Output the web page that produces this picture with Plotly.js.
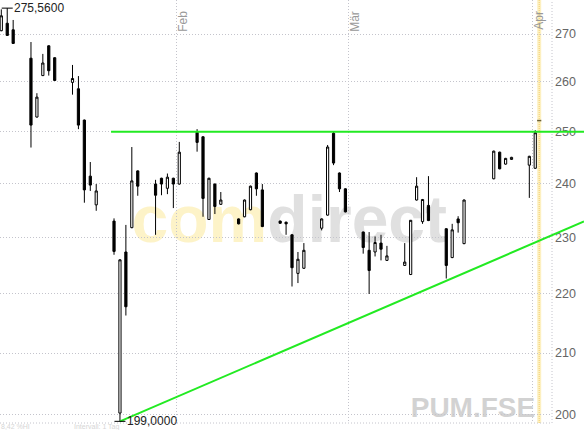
<!DOCTYPE html>
<html>
<head>
<meta charset="utf-8">
<script src="https://cdn.plot.ly/plotly-3.0.1.min.js"></script>
<style>
  html, body { margin: 0; padding: 0; background: #fff; }
  #chart { width: 584px; height: 430px; }
</style>
</head>
<body>
<div id="chart"></div>
<script>
// PUM.FSE, daily candles, January to April 2008
const dates = [
  '2008-01-02','2008-01-03','2008-01-04','2008-01-07','2008-01-08','2008-01-09','2008-01-10','2008-01-11',
  '2008-01-14','2008-01-15','2008-01-16','2008-01-17','2008-01-18',
  '2008-01-21','2008-01-22','2008-01-23','2008-01-24','2008-01-25',
  '2008-01-28','2008-01-29','2008-01-30','2008-01-31','2008-02-01',
  '2008-02-04','2008-02-05','2008-02-06','2008-02-07','2008-02-08',
  '2008-02-11','2008-02-12','2008-02-13','2008-02-14','2008-02-15',
  '2008-02-18','2008-02-19','2008-02-20','2008-02-21','2008-02-22',
  '2008-02-25','2008-02-26','2008-02-27','2008-02-28','2008-02-29',
  '2008-03-03','2008-03-04','2008-03-05','2008-03-06','2008-03-07',
  '2008-03-10','2008-03-11','2008-03-12','2008-03-13','2008-03-14',
  '2008-03-17','2008-03-18','2008-03-19','2008-03-20',
  '2008-03-25','2008-03-26','2008-03-27','2008-03-28',
  '2008-03-31','2008-04-01'
];
const open = [
  270.7, 272.3, 270.9, 264.9, 252.9, 261.3, 267.5, 265.0,
  259.9, 258.6, 252.3, 241.4, 236.0,
  233.0, 200.3, 227.4, 231.8, 242.4,
  239.9, 241.0, 239.1, 241.0, 239.9,
  249.9, 249.0, 233.3, 239.9, 236.1,
  233.4, 233.8, 235.1, 242.0, 238.8,
  233.0, 232.8, 230.5, 223.6, 224.5,
  231.7, 234.1, 249.7, 242.0, 239.0,
  231.0, 227.7, 227.4, 229.0, 225.9,
  225.0, 223.4, 236.9, 232.9, 235.9,
  231.6, 226.4, 233.4, 228.9,
  240.9, 246.0, 243.7, 244.6,
  243.5, 242.9
];
const high = [
  275.3, 275.56, 273.0, 268.3, 257.7, 265.8, 267.6, 265.1,
  263.5, 261.2, 252.4, 244.1, 239.9,
  233.5, 226.1, 232.3, 247.0, 242.5,
  240.7, 241.1, 241.9, 241.1, 248.0,
  250.5, 249.1, 241.1, 240.0, 238.4,
  233.5, 237.0, 239.6, 242.1, 239.9,
  233.1, 232.9, 230.6, 227.4, 229.0,
  233.5, 247.4, 250.0, 242.1, 239.1,
  231.1, 231.0, 230.2, 230.5, 228.5,
  229.0, 233.2, 241.2, 237.1, 241.4,
  231.7, 232.5, 233.9, 237.0,
  246.3, 246.1, 244.9, 245.1,
  245.3, 250.3
];
const low = [
  270.6, 269.6, 267.9, 246.9, 252.8, 261.2, 261.3, 260.2,
  257.4, 250.5, 236.4, 238.6, 234.9,
  226.9, 199.0, 216.3, 231.7, 237.7,
  230.5, 237.8, 238.0, 235.4, 239.8,
  246.1, 233.8, 233.2, 234.3, 236.0,
  232.4, 233.7, 235.0, 237.7, 231.9,
  232.5, 230.5, 221.3, 221.9, 224.4,
  231.3, 234.0, 243.5, 238.4, 234.6,
  227.1, 220.0, 226.6, 225.9, 225.8,
  224.9, 223.3, 236.8, 232.5, 233.0,
  222.7, 226.3, 230.9, 228.8,
  240.8, 242.7, 243.6, 244.5,
  237.3, 242.8
];
const close = [
  273.9, 269.7, 268.0, 251.3, 256.9, 263.9, 262.3, 260.3,
  260.7, 251.3, 238.8, 239.7, 238.6,
  227.5, 226.0, 217.8, 240.5, 239.5,
  237.8, 239.9, 241.2, 239.9, 246.0,
  247.9, 237.2, 241.0, 235.7, 236.9,
  232.5, 236.9, 239.5, 239.0, 232.0,
  232.6, 232.5, 224.6, 226.1, 227.7,
  233.4, 247.0, 243.9, 239.0, 234.7,
  228.2, 224.1, 229.1, 227.9, 226.7,
  225.6, 233.15, 239.5, 237.0, 233.1,
  225.0, 231.4, 232.7, 236.9,
  246.2, 242.8, 244.8, 245.0,
  245.2, 249.8
];

const monthStarts = ['2008-02-01', '2008-03-01', '2008-04-01'];
const monthLabels = ['Feb', 'Mär', 'Apr'];
const priceTicks = [200, 210, 220, 230, 240, 250, 260, 270];

// drawn lines: resistance and rising support
const resistanceLevel = 250.0;
const resistanceStart = '2008-01-21';
const trendDates = ['2008-01-22 12:00', '2008-03-17 12:00'];
const trendPrices = [199.0, 222.3];

// latest quote
const quoteTime = '2008-04-02 04:00';
const quotePrice = 252.2;

const xRange = ['2008-01-02 06:44', '2008-04-04 07:45'];
const yMin = 198.74, yMax = 277.33;

const FONT = 'Liberation Sans, Arial, Helvetica, sans-serif';
const W = 584, H = 430;
const margin = { l: 0, r: 32, t: 0, b: 7, pad: 0 };
const plotW = W - margin.l - margin.r;

function toMs(s) {
  const p = s.split(/[- :]/).map(Number);
  return Date.UTC(p[0], p[1] - 1, p[2], p[3] || 0, p[4] || 0);
}
const r0 = toMs(xRange[0]), r1 = toMs(xRange[1]);
const frac = s => (toMs(s) - r0) / (r1 - r0);
const pageRight = 1 + margin.r / plotW;   // x-domain fraction of the page edge

// support line extended in log space to the page edge
const t0 = toMs(trendDates[0]), t1 = toMs(trendDates[1]);
const k = (Math.log10(trendPrices[1]) - Math.log10(trendPrices[0])) / (t1 - t0);
const tEnd = r0 + pageRight * (r1 - r0);
const trendEndPrice = Math.pow(10, Math.log10(trendPrices[0]) + k * (tEnd - t0));

// period extremes
let hi = 0, lo = 0;
high.forEach((v, i) => { if (v > high[hi]) hi = i; });
low.forEach((v, i) => { if (v < low[lo]) lo = i; });
const fmt = v => v.toFixed(4).replace('.', ',');
const mid = d => d + ' 12:00';

const GRID = '#c4c4cc';
const GREEN = '#22ea22';

const candles = {
  type: 'candlestick',
  x: dates, open: open, high: high, low: low, close: close,
  xperiod: 86400000, xperiodalignment: 'middle',
  increasing: { line: { color: '#000', width: 1 }, fillcolor: '#fff' },
  decreasing: { line: { color: '#000', width: 1 }, fillcolor: '#000' },
  whiskerwidth: 0,
  hoverinfo: 'skip'
};

const quote = {
  type: 'scatter', mode: 'markers',
  x: [quoteTime], y: [quotePrice],
  marker: { symbol: 'line-ew', size: 3, line: { width: 1.5, color: '#6b6035' } },
  hoverinfo: 'skip'
};

const shapes = [
  // watermarks behind the candles
  {
    type: 'rect', xref: 'paper', yref: 'paper', layer: 'below',
    x0: 0.2476, x1: 0.8007, y0: 0.4007, y1: 0.5907,
    line: { width: 0 }, fillcolor: 'rgba(0,0,0,0)',
    label: {
      text: '<span style="fill:#fdf3c8">com</span><span style="fill:#e0e0e0">direct</span>',
      textposition: 'middle center', padding: 0,
      font: { family: FONT, size: 66, color: '#e0e0e0', weight: 'bold' }
    }
  },
  {
    type: 'rect', xref: 'paper', yref: 'paper', layer: 'below',
    x0: 0.74, x1: 0.975, y0: 0.0128, y1: 0.0728,
    line: { width: 0 }, fillcolor: 'rgba(0,0,0,0)',
    label: {
      text: 'PUM.FSE', textposition: 'middle right', padding: 0,
      font: { family: FONT, size: 28, color: '#d2d2d2', weight: 'bold' }
    }
  },
  // today marker
  {
    type: 'rect', xref: 'x', yref: 'paper', layer: 'below',
    xsizemode: 'pixel', xanchor: quoteTime, x0: -2, x1: 2, y0: 0, y1: 1,
    fillcolor: '#fdf0c0', line: { width: 0 }
  },
  {
    type: 'line', xref: 'x', yref: 'paper', layer: 'below',
    xsizemode: 'pixel', xanchor: quoteTime, x0: 0, x1: 0, y0: 0, y1: 1,
    line: { color: '#f3cf70', width: 1, dash: '1px,1px' }
  },
  // plot frame (right and bottom)
  {
    type: 'line', xref: 'paper', yref: 'paper', x0: 1, x1: 1, y0: 0, y1: 1,
    line: { color: GRID, width: 1, dash: '1px,2px' }
  },
  {
    type: 'line', xref: 'paper', yref: 'paper', x0: 0, x1: 1, y0: 0, y1: 0,
    line: { color: GRID, width: 1, dash: '1px,2px' }
  },
  // resistance
  {
    type: 'line', xref: 'x domain', yref: 'y',
    x0: frac(resistanceStart), x1: pageRight, y0: resistanceLevel, y1: resistanceLevel,
    line: { color: GREEN, width: 2 }
  },
  // support
  {
    type: 'line', xref: 'x domain', yref: 'y',
    x0: frac(trendDates[0]), x1: pageRight, y0: trendPrices[0], y1: trendEndPrice,
    line: { color: GREEN, width: 2 }
  },
  // extreme markers
  {
    type: 'line', xref: 'x', yref: 'y', xsizemode: 'pixel', xanchor: mid(dates[hi]),
    x0: -5.5, x1: 5.5, y0: high[hi], y1: high[hi], line: { color: '#000', width: 1 }
  },
  {
    type: 'line', xref: 'x', yref: 'y', xsizemode: 'pixel', xanchor: mid(dates[lo]),
    x0: -5.5, x1: 5.5, y0: low[lo], y1: low[lo], line: { color: '#000', width: 1 }
  }
];

const annotations = monthStarts.map((d, i) => ({
  x: d, xref: 'x', y: 1, yref: 'paper',
  xanchor: 'center', yanchor: 'top', xshift: 6, yshift: -9,
  textangle: -90, text: monthLabels[i], showarrow: false,
  font: { family: FONT, size: 12, color: '#999' }
}));

annotations.push(
  {
    x: mid(dates[hi]), xref: 'x', y: Math.log10(high[hi]), yref: 'y',
    xanchor: 'left', yanchor: 'middle', xshift: 5, showarrow: false,
    text: fmt(high[hi]), font: { family: FONT, size: 12, color: '#222' }
  },
  {
    x: mid(dates[lo]), xref: 'x', y: Math.log10(low[lo]), yref: 'y',
    xanchor: 'left', yanchor: 'middle', xshift: 5, showarrow: false,
    text: fmt(low[lo]), font: { family: FONT, size: 12, color: '#222' }
  },
  {
    x: 0, xref: 'paper', y: 0, yref: 'paper', xanchor: 'left', yanchor: 'top',
    yshift: 1, borderpad: 0, showarrow: false, text: '8,42 %HI',
    font: { family: FONT, size: 7, color: '#d6d6d6' }
  },
  {
    x: 0.1317, xref: 'paper', y: 0, yref: 'paper', xanchor: 'left', yanchor: 'top',
    yshift: 1, borderpad: 0, showarrow: false, text: 'Intervall: 1 Tag',
    font: { family: FONT, size: 7, color: '#d6d6d6' }
  }
);

const layout = {
  width: W, height: H, margin: margin,
  paper_bgcolor: '#fff', plot_bgcolor: '#fff',
  showlegend: false,
  boxgap: 0.63, boxgroupgap: 0,
  xaxis: {
    type: 'date', range: xRange, tickvals: monthStarts,
    showticklabels: false, ticks: '',
    showgrid: true, gridcolor: GRID, gridwidth: 1, griddash: '1px,2px',
    zeroline: false, showline: false,
    rangeslider: { visible: false }, fixedrange: true
  },
  yaxis: {
    type: 'log', side: 'right',
    range: [Math.log10(yMin), Math.log10(yMax)],
    tickvals: priceTicks, ticktext: priceTicks.map(String), ticks: '',
    showgrid: true, gridcolor: GRID, gridwidth: 1, griddash: '1px,2px',
    zeroline: false, showline: false, ticklabelstandoff: 2,
    tickfont: { family: FONT, size: 12.5, color: '#666' },
    fixedrange: true
  },
  shapes: shapes,
  annotations: annotations
};

Plotly.newPlot('chart', [candles, quote], layout, { staticPlot: true, displayModeBar: false });
</script>
</body>
</html>
